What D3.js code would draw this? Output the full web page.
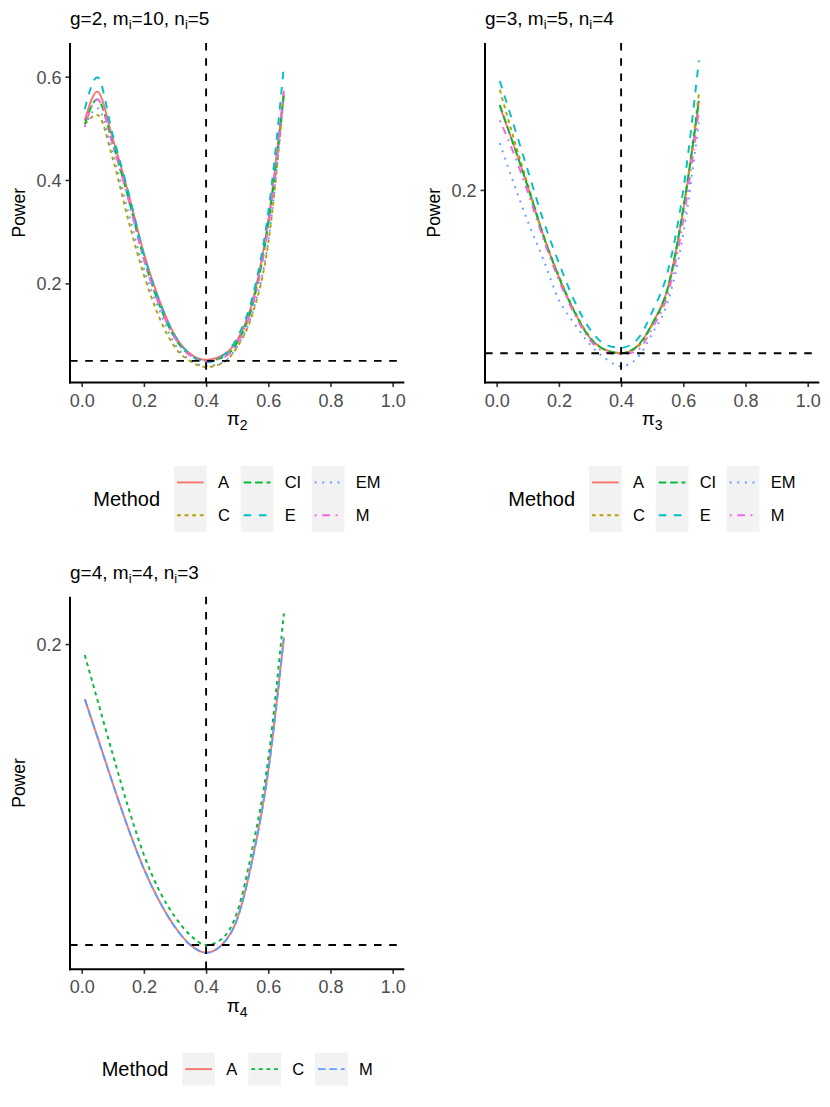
<!DOCTYPE html>
<html><head><meta charset="utf-8">
<script src="https://cdn.jsdelivr.net/npm/d3@7"></script>
<style>
body{margin:0;background:#fff}
svg{display:block}
text{font-family:"Liberation Sans",Arial,Helvetica,sans-serif}
</style>
</head><body>
<svg id="chart" width="830" height="1107"></svg>
<script>
// ---------------- DATA ----------------
const piValues = [0.01,0.05,0.10,0.15,0.20,0.25,0.30,0.35,0.40,0.45,0.50,0.55,0.60,0.65];
const methods6 = ["A","C","CI","E","EM","M"];
const methods3 = ["A","C","M"];
const xTickValues = [0,0.2,0.4,0.6,0.8,1.0];
const xTickLabels = ["0.0","0.2","0.4","0.6","0.8","1.0"];
const yTicksG2 = [0.2,0.4,0.6];
const yTicksG3 = [0.2];
const yTicksG4 = [0.2];
const refPi = 0.4;
const refPower = 0.05;

// g=2, m_i=10, n_i=5
const g2_A  = [0.515,0.571,0.480,0.375,0.258,0.167,0.099,0.063,0.052,0.060,0.090,0.167,0.322,0.573];
const g2_C  = [0.508,0.526,0.441,0.322,0.216,0.133,0.076,0.049,0.038,0.045,0.077,0.142,0.278,0.565];
const g2_CI = [0.508,0.556,0.470,0.365,0.248,0.158,0.094,0.060,0.050,0.056,0.085,0.160,0.315,0.566];
const g2_E  = [0.537,0.599,0.487,0.377,0.256,0.165,0.098,0.062,0.047,0.058,0.095,0.176,0.338,0.620];
const g2_EM = [0.503,0.539,0.453,0.338,0.228,0.147,0.082,0.051,0.040,0.046,0.078,0.145,0.282,0.560];
const g2_M  = [0.503,0.556,0.468,0.362,0.246,0.157,0.094,0.060,0.050,0.055,0.084,0.158,0.310,0.568];

// g=3, m_i=5, n_i=4
const g3_A  = [0.277,0.245,0.203,0.158,0.120,0.088,0.064,0.053,0.050,0.056,0.077,0.110,0.182,0.281];
const g3_C  = [0.292,0.252,0.205,0.159,0.121,0.089,0.065,0.053,0.050,0.055,0.076,0.108,0.182,0.288];
const g3_CI = [0.278,0.245,0.203,0.158,0.120,0.088,0.064,0.053,0.050,0.056,0.077,0.110,0.183,0.282];
const g3_E  = [0.300,0.264,0.218,0.172,0.133,0.098,0.072,0.058,0.055,0.062,0.088,0.125,0.200,0.319];
const g3_EM = [0.243,0.210,0.171,0.136,0.099,0.077,0.058,0.045,0.038,0.045,0.068,0.097,0.160,0.262];
const g3_M  = [0.264,0.237,0.198,0.155,0.117,0.086,0.062,0.051,0.049,0.052,0.073,0.104,0.172,0.273];

// g=4, m_i=4, n_i=3
const g4_A = [0.1726,0.1540,0.1305,0.1080,0.0880,0.0718,0.0590,0.0500,0.0462,0.0500,0.0630,0.0935,0.1370,0.2033];
const g4_C = [0.1945,0.1725,0.1450,0.1185,0.0950,0.0770,0.0640,0.0548,0.0500,0.0530,0.0665,0.0990,0.1430,0.2153];
const g4_M = [0.1724,0.1538,0.1304,0.1079,0.0879,0.0717,0.0589,0.0499,0.0461,0.0499,0.0629,0.0933,0.1367,0.2030];

// ---------------- STYLES ----------------
const col6 = {A:"#F8766D",C:"#B79F00",CI:"#00BA38",E:"#00BFC4",EM:"#619CFF",M:"#F564E3"};
const col3 = {A:"#F8766D",C:"#00BA38",M:"#619CFF"};
const u = 1.9;
const dashes = ["none", `${2*u},${2*u}`, `${4*u},${2*u}`, `${4*u},${4*u}`, `${1*u},${3*u}`, `${1*u},${3*u},${4*u},${3*u}`];
const FONT_TICK = 18, FONT_TITLE = 19, FONT_AXIS = 17.5, FONT_LEG = 16.5, FONT_LEGT = 20;

const svg = d3.select("#chart");

function drawPanel(cfg){
  const g = svg.append("g");
  const x = d3.scaleLinear().domain([-0.0376,1.0373]).range([cfg.left,cfg.right]);
  const y = d3.scaleLinear().domain(cfg.yDomain).range([cfg.bottom,cfg.top]);

  // series
  const line = d3.line().x(d=>x(d[0])).y(d=>y(d[1])).curve(d3.curveMonotoneX);
  cfg.series.forEach((s,i)=>{
    g.append("path")
      .attr("d", line(piValues.map((v,k)=>[v,s.values[k]])))
      .attr("fill","none").attr("stroke",s.color).attr("stroke-width",u)
      .attr("stroke-dasharray",dashes[i]).attr("stroke-linecap","butt");
  });

  // reference lines
  g.append("line").attr("x1",x(refPi)).attr("x2",x(refPi)).attr("y1",cfg.top).attr("y2",cfg.bottom)
    .attr("stroke","#000").attr("stroke-width",u).attr("stroke-dasharray",`${4*u},${4*u}`);
  g.append("line").attr("x1",cfg.left).attr("x2",cfg.right).attr("y1",y(refPower)).attr("y2",y(refPower))
    .attr("stroke","#000").attr("stroke-width",u).attr("stroke-dasharray",`${4*u},${4*u}`);

  // axes
  const xAxis = d3.axisBottom(x).tickValues(xTickValues).tickFormat((d,i)=>xTickLabels[i]).tickSizeOuter(0).tickSize(4.5).tickPadding(4);
  const xa = g.append("g").attr("transform",`translate(0,${cfg.bottom})`).call(xAxis);
  const yAxis = d3.axisLeft(y).tickValues(cfg.yTicks).tickFormat(d3.format(".1f")).tickSizeOuter(0).tickSize(4.5).tickPadding(4);
  const ya = g.append("g").attr("transform",`translate(${cfg.left},0)`).call(yAxis);
  [xa,ya].forEach(a=>{
    a.select(".domain").remove();
    a.selectAll(".tick line").attr("stroke","#333").attr("stroke-width",1.6);
    a.selectAll(".tick text").attr("fill","#4D4D4D").style("font-size",FONT_TICK+"px").attr("font-family",null);
  });
  xa.selectAll(".tick text").attr("dy",null).attr("y",24).attr("dominant-baseline","auto");
  ya.selectAll(".tick text").attr("dy","0.36em");
  g.append("line").attr("x1",cfg.left).attr("x2",cfg.left).attr("y1",cfg.top).attr("y2",cfg.bottom+1)
    .attr("stroke","#000").attr("stroke-width",2);
  g.append("line").attr("x1",cfg.left-1).attr("x2",cfg.right).attr("y1",cfg.bottom).attr("y2",cfg.bottom)
    .attr("stroke","#000").attr("stroke-width",2);

  // title
  const t = g.append("text").attr("x",cfg.left).attr("y",cfg.top-18).style("font-size",FONT_TITLE+"px").attr("fill","#000");
  cfg.title.forEach((p,i)=>{
    const ts = t.append("tspan").text(p);
    if(i%2===1){ ts.style("font-size","13px").attr("dy",4); }
    else if(i>0){ ts.attr("dy",-4); }
  });

  // axis titles
  const cx = (cfg.left+cfg.right)/2;
  const xt = g.append("text").attr("x",cx).attr("y",cfg.bottom+42.5).attr("text-anchor","middle").style("font-size","19px");
  xt.append("tspan").text("π");
  xt.append("tspan").text(cfg.sub).style("font-size","14px").attr("dy",5);
  g.append("text").attr("transform",`translate(${cfg.left-45},${(cfg.top+cfg.bottom)/2}) rotate(-90)`)
    .attr("text-anchor","middle").style("font-size",FONT_AXIS+"px").text("Power");

  // legend
  const L = cfg.legend;
  const nRows = L.rows;
  const rowH = 32.85;
  const legTop = L.top;
  g.append("text").attr("x",L.titleX).attr("y",legTop + nRows*rowH/2 + 7).style("font-size",FONT_LEGT+"px").text("Method");
  L.boxX.forEach(bx=>{
    g.append("rect").attr("x",bx).attr("y",legTop).attr("width",32.7).attr("height",nRows*rowH).attr("fill","#F2F2F2");
  });
  cfg.series.forEach((s,i)=>{
    const c = Math.floor(i/nRows), r = i%nRows;
    const bx = L.boxX[c], cy = legTop + r*rowH + rowH/2;
    g.append("line").attr("x1",bx+3).attr("x2",bx+29.7).attr("y1",cy).attr("y2",cy)
      .attr("stroke",s.color).attr("stroke-width",u).attr("stroke-dasharray",dashes[i]);
    g.append("text").attr("x",bx+44).attr("y",cy+6).style("font-size",FONT_LEG+"px").text(s.name);
  });
}

drawPanel({
  left:70,right:404.3,top:43,bottom:382.5,yDomain:[0.0081,0.6652],yTicks:yTicksG2,
  title:["g=2, m","i","=10, n","i","=5"],sub:"2",
  series:[g2_A,g2_C,g2_CI,g2_E,g2_EM,g2_M].map((v,i)=>({name:methods6[i],values:v,color:col6[methods6[i]]})),
  legend:{titleX:93.3,top:466,rows:2,boxX:[174,240.7,311.7]}
});
drawPanel({
  left:485,right:819.3,top:43,bottom:382.5,yDomain:[0.0231,0.335],yTicks:yTicksG3,
  title:["g=3, m","i","=5, n","i","=4"],sub:"3",
  series:[g3_A,g3_C,g3_CI,g3_E,g3_EM,g3_M].map((v,i)=>({name:methods6[i],values:v,color:col6[methods6[i]]})),
  legend:{titleX:508.3,top:466,rows:2,boxX:[589,655.7,726.7]}
});
drawPanel({
  left:70,right:404.3,top:596.7,bottom:969.3,yDomain:[0.0379,0.2236],yTicks:yTicksG4,
  title:["g=4, m","i","=4, n","i","=3"],sub:"4",
  series:[g4_A,g4_C,g4_M].map((v,i)=>({name:methods3[i],values:v,color:col3[methods3[i]]})),
  legend:{titleX:101.7,top:1052.7,rows:1,boxX:[182.3,248.3,315]}
});
</script>
</body></html>
